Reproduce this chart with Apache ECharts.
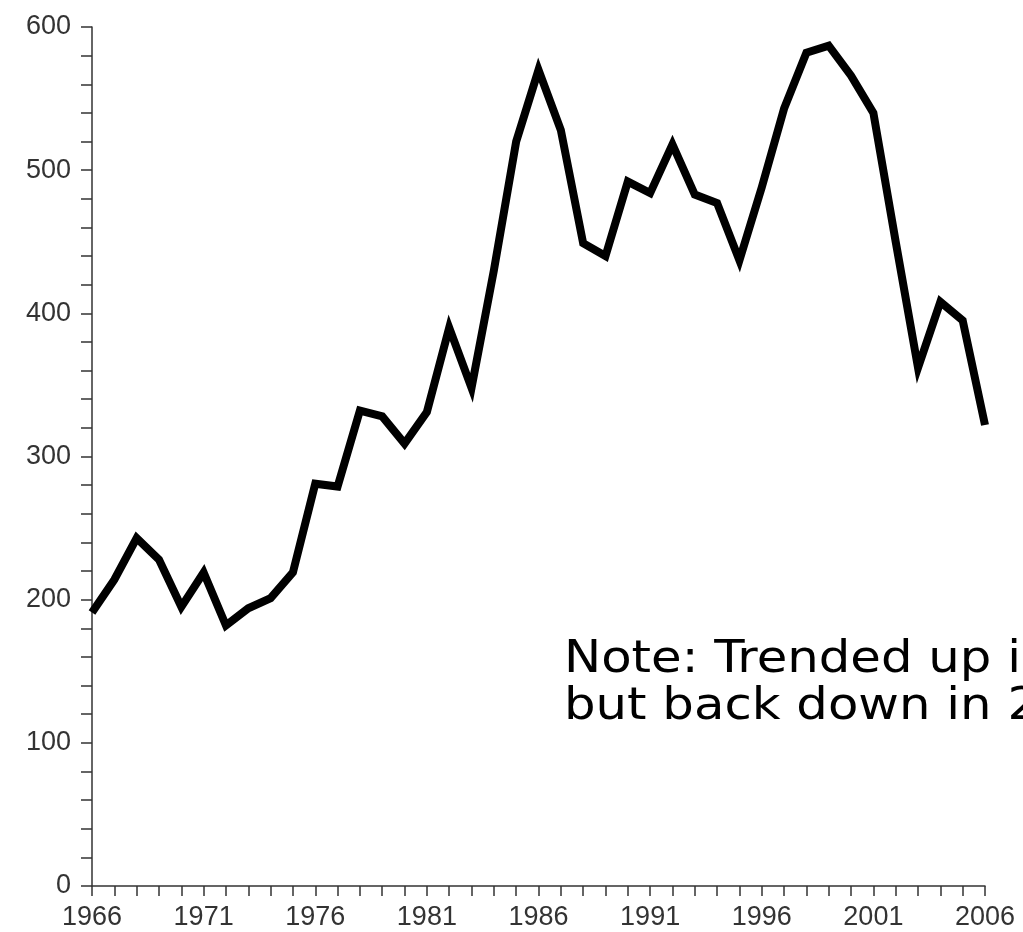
<!DOCTYPE html>
<html>
<head>
<meta charset="utf-8">
<script src="https://cdn.jsdelivr.net/npm/echarts@6/dist/echarts.min.js"></script>
<style>
html,body{margin:0;padding:0;background:#fff;}
#chart{width:1023px;height:932px;}
</style>
</head>
<body>
<div id="chart"></div>
<script>
var years = [1966,1967,1968,1969,1970,1971,1972,1973,1974,1975,1976,1977,1978,1979,1980,1981,1982,1983,1984,1985,1986,1987,1988,1989,1990,1991,1992,1993,1994,1995,1996,1997,1998,1999,2000,2001,2002,2003,2004,2005,2006];
var values = [191,214,243,228,195,219,182,194,201,219,281,279,332,328,309,331,390,348,430,520,570,528,449,440,492,484,518,483,477,437,488,543,582,587,566,540,450,362,408,395,322];
var yTicks = [0,100,200,300,400,500,600];
var noteLines = ["Note: Trended up in 2004", "but back down in 2006"];

var chart = echarts.init(document.getElementById('chart'), null, {renderer:'canvas'});
var labelFont = {fontFamily:'Liberation Sans, Arial, sans-serif', fontSize:27, color:'#333'};
chart.setOption({
  animation:false,
  backgroundColor:'#fff',
  grid:{left:92, right:38, top:27, bottom:46, containLabel:false},
  xAxis:{
    type:'category',
    data:years.map(String),
    boundaryGap:false,
    axisLine:{lineStyle:{color:'#333', width:1.5}},
    axisTick:{show:true, interval:0, length:10, lineStyle:{color:'#333', width:1.5}},
    axisLabel:Object.assign({interval:4, margin:18}, labelFont),
    splitLine:{show:false}
  },
  yAxis:{
    type:'value',
    min:yTicks[0], max:yTicks[yTicks.length-1], interval:100,
    axisLine:{show:true, lineStyle:{color:'#333', width:1.5}},
    axisTick:{show:true, length:11, lineStyle:{color:'#333', width:1.5}},
    minorTick:{show:true, splitNumber:5, length:11, lineStyle:{color:'#333', width:1.5}},
    axisLabel:Object.assign({margin:21, padding:[0,0,8,0]}, labelFont),
    splitLine:{show:false}
  },
  series:[{
    type:'line',
    data:values,
    symbol:'none',
    lineStyle:{color:'#000', width:8, join:'miter', cap:'butt'}
  }],
  graphic:[{
    type:'text',
    x:564, y:637,
    scaleX:1.13,
    style:{
      text:noteLines.join('\n'),
      font:'44px "DejaVu Sans"',
      fill:'#000',
      lineHeight:47
    }
  }]
});
</script>
</body>
</html>
